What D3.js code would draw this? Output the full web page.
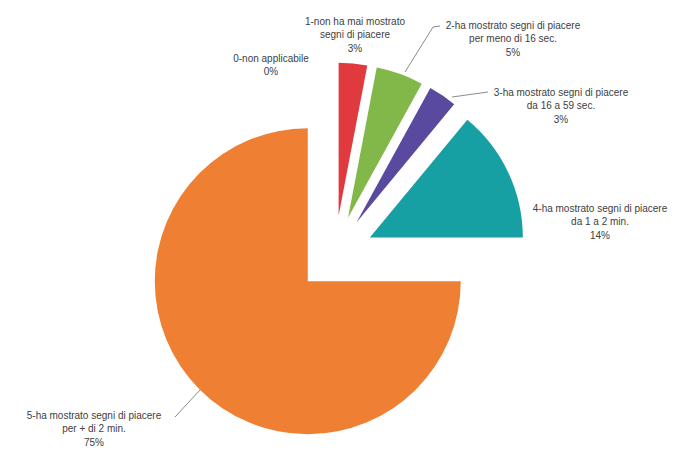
<!DOCTYPE html>
<html>
<head>
<meta charset="utf-8">
<script src="https://cdn.jsdelivr.net/npm/d3@7"></script>
<style>
  body { margin: 0; background: #fff; }
  svg { display: block; }
</style>
</head>
<body>
<svg id="chart" width="680" height="459"></svg>
<script>
// data
var categories = ["0-non applicabile", "1-non ha mai mostrato segni di piacere",
  "2-ha mostrato segni di piacere per meno di 16 sec.", "3-ha mostrato segni di piacere da 16 a 59 sec.",
  "4-ha mostrato segni di piacere da 1 a 2 min.", "5-ha mostrato segni di piacere per + di 2 min."]
var values = [0, 3, 5, 3, 14, 75]
var labelLines = [
  ["0-non applicabile", "0%"],
  ["1-non ha mai mostrato", "segni di piacere", "3%"],
  ["2-ha mostrato segni di piacere", "per meno di 16 sec.", "5%"],
  ["3-ha mostrato segni di piacere", "da 16 a 59 sec.", "3%"],
  ["4-ha mostrato segni di piacere", "da 1 a 2 min.", "14%"],
  ["5-ha mostrato segni di piacere", "per + di 2 min.", "75%"]
]
var colors = ["#4F81BD", "#E0393E", "#82B84A", "#5A4A9F", "#17A0A4", "#EF7F33"]

// layout
var cx = 335, cy = 254
var radius = 153
var explode = 38.5
var lineH = 13.5
// label anchor (centre of first line) relative to pie centre
var labelOffset = [[-64, -196], [20, -233], [178, -229], [226, -162], [265, -46], [-241, 161]]
// leader lines, relative to pie centre (null = none)
var leaders = [null, null,
  [[70, -182], [98, -227], [105, -228]],
  [[117, -157], [153, -162]],
  null,
  [[-135, 136], [-160, 163]]]

var svg = d3.select("#chart")
var g = svg.append("g").attr("transform", "translate(" + cx + "," + cy + ")")

var pie = d3.pie().sort(null).value(function(d){ return d })
var arcs = pie(values)
var arc = d3.arc().innerRadius(0).outerRadius(radius)

g.selectAll("path.slice")
    .data(arcs)
    .enter()
  .append("path")
    .attr("class", "slice")
    .attr("d", arc)
    .attr("fill", function(d, i){ return colors[i] })
    .attr("transform", function(d){
      var a = (d.startAngle + d.endAngle) / 2
      return "translate(" + (explode * Math.sin(a)) + "," + (-explode * Math.cos(a)) + ")"
    })

// leader lines
leaders.forEach(function(pts){
  if (!pts) return
  g.append("path")
    .attr("d", d3.line()(pts))
    .attr("fill", "none")
    .attr("stroke", "#8c8c8c")
    .attr("stroke-width", 1)
})

// labels
labelLines.forEach(function(lines, i){
  var t = g.append("text")
    .attr("text-anchor", "middle")
    .attr("font-family", "Liberation Sans, Arial, sans-serif")
    .attr("font-size", 10)
    .attr("fill", "#404040")
  lines.forEach(function(s, j){
    t.append("tspan")
      .attr("x", labelOffset[i][0])
      .attr("y", labelOffset[i][1] + j * lineH + 3.5)
      .text(s)
  })
})
</script>
</body>
</html>
